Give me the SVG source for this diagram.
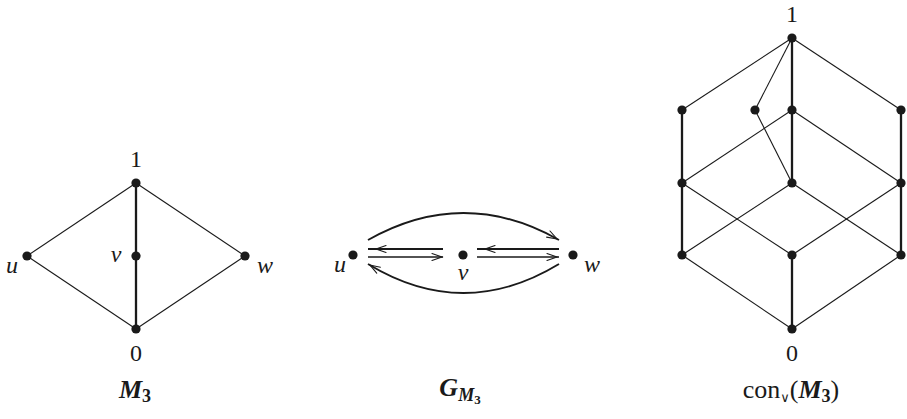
<svg xmlns="http://www.w3.org/2000/svg" width="907" height="419" viewBox="0 0 907 419">
<style>
.e{stroke:#1a1a1a;stroke-width:1.1;fill:none}
.t{stroke:#1a1a1a;stroke-width:2.3;fill:none}
.a{stroke:#1a1a1a;stroke-width:1.9;fill:none}
.h{stroke:#1a1a1a;stroke-width:1.1;fill:none;stroke-linecap:round}
.n{fill:#1a1a1a}
text{font-family:"Liberation Serif","DejaVu Serif",serif;font-size:24px;fill:#1a1a1a}
.i{font-style:italic}
.c{text-anchor:middle}
.cap{font-size:26px}
</style>
<rect width="907" height="419" fill="#fff"/>
<g id="connectors">
<line class="e" x1="136" y1="183" x2="27" y2="256"/>
<line class="e" x1="136" y1="183" x2="245" y2="256"/>
<line class="e" x1="27" y1="256" x2="136" y2="329"/>
<line class="e" x1="245" y1="256" x2="136" y2="329"/>
<line class="t" x1="136" y1="183" x2="136" y2="329"/>
<path class="a" d="M368,240 Q463.5,186 559,240"/>
<path class="a" d="M559,264 Q463.5,322 368,264"/>
<line class="a" x1="368" y1="249" x2="443" y2="249"/>
<line class="e" x1="368" y1="257" x2="443" y2="257" style="stroke-width:1.4"/>
<line class="a" x1="477" y1="249" x2="559" y2="249"/>
<line class="e" x1="477" y1="257" x2="559" y2="257" style="stroke-width:1.4"/>
<path class="h" d="M386,245.5 L376,249 L386,252.5"/>
<path class="h" d="M432,253.5 L442,257 L432,260.5"/>
<path class="h" d="M495,245.5 L485,249 L495,252.5"/>
<path class="h" d="M547,253.5 L557,257 L547,260.5"/>
<path class="h" d="M550,231 L557,239 L546.6,237.1"/>
<path class="h" d="M380.4,267.2 L370,265 L376.7,273.2"/>
<line class="e" x1="792" y1="38" x2="682" y2="110"/>
<line class="e" x1="792" y1="38" x2="755" y2="110"/>
<line class="e" x1="792" y1="38" x2="901" y2="110"/>
<line class="t" x1="792" y1="38" x2="792" y2="183"/>
<line class="t" x1="682" y1="110" x2="682" y2="255"/>
<line class="t" x1="901" y1="110" x2="901" y2="255"/>
<line class="e" x1="755" y1="110" x2="792" y2="183"/>
<line class="e" x1="792" y1="110" x2="682" y2="183"/>
<line class="e" x1="792" y1="110" x2="901" y2="183"/>
<line class="e" x1="682" y1="183" x2="792" y2="255"/>
<line class="e" x1="792" y1="183" x2="682" y2="255"/>
<line class="e" x1="792" y1="183" x2="901" y2="255"/>
<line class="e" x1="901" y1="183" x2="792" y2="255"/>
<line class="e" x1="682" y1="255" x2="792" y2="329"/>
<line class="e" x1="901" y1="255" x2="792" y2="329"/>
<line class="t" x1="792" y1="255" x2="792" y2="329"/>
</g>
<g id="m3-1"><circle class="n" cx="136" cy="183" r="4.6"/><text class="c" x="136" y="167">1</text></g>
<g id="m3-v"><circle class="n" cx="136" cy="256" r="4.6"/><text class="i c" x="116" y="262">v</text></g>
<g id="m3-u"><circle class="n" cx="27" cy="256" r="4.6"/><text class="i c" x="12" y="273">u</text></g>
<g id="m3-w"><circle class="n" cx="245" cy="256" r="4.6"/><text class="i c" x="265" y="273">w</text></g>
<g id="m3-0"><circle class="n" cx="136" cy="329" r="4.6"/><text class="c" x="136" y="361">0</text></g>
<g id="m3-label"><text class="c cap" x="135" y="398"><tspan font-weight="bold" font-style="italic">M</tspan><tspan font-weight="bold" font-size="18" dy="4">3</tspan></text></g>
<g id="g-u"><circle class="n" cx="353" cy="255" r="4.6"/><text class="i c" x="340" y="272">u</text></g>
<g id="g-v"><circle class="n" cx="463" cy="255" r="4.6"/><text class="i c" x="463" y="280">v</text></g>
<g id="g-w"><circle class="n" cx="573" cy="255" r="4.6"/><text class="i c" x="592" y="272">w</text></g>
<g id="g-label"><text class="c cap" x="460" y="396"><tspan font-weight="bold" font-style="italic">G</tspan><tspan font-weight="bold" font-style="italic" font-size="18" dy="5">M</tspan><tspan font-weight="bold" font-size="13" dy="3">3</tspan></text></g>
<g id="c-1"><circle class="n" cx="792" cy="38" r="4.6"/><text class="c" x="792" y="22">1</text></g>
<g id="c-a"><circle class="n" cx="682" cy="110" r="4.6"/></g>
<g id="c-b"><circle class="n" cx="755" cy="110" r="4.6"/></g>
<g id="c-c"><circle class="n" cx="792" cy="110" r="4.6"/></g>
<g id="c-d"><circle class="n" cx="901" cy="110" r="4.6"/></g>
<g id="c-e"><circle class="n" cx="682" cy="183" r="4.6"/></g>
<g id="c-f"><circle class="n" cx="792" cy="183" r="4.6"/></g>
<g id="c-g"><circle class="n" cx="901" cy="183" r="4.6"/></g>
<g id="c-h"><circle class="n" cx="682" cy="255" r="4.6"/></g>
<g id="c-i"><circle class="n" cx="792" cy="255" r="4.6"/></g>
<g id="c-j"><circle class="n" cx="901" cy="255" r="4.6"/></g>
<g id="c-0"><circle class="n" cx="792" cy="329" r="4.6"/><text class="c" x="792" y="361">0</text></g>
<g id="c-label"><text class="c cap" x="791" y="398">con<tspan font-size="13" font-family="DejaVu Sans, sans-serif" dy="4">∨</tspan><tspan dy="-4">(</tspan><tspan font-weight="bold" font-style="italic">M</tspan><tspan font-weight="bold" font-size="18" dy="4">3</tspan><tspan dy="-4">)</tspan></text></g>
</svg>
